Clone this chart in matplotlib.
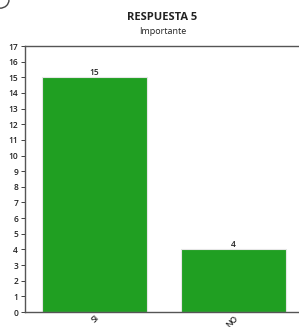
import matplotlib.pyplot as plt
from matplotlib.patches import Arc

categorias = ['SI', 'NO']
valores = [15, 4]

plt.rcParams['font.family'] = ['Open Sans', 'DejaVu Sans']

fig = plt.figure(figsize=(2.99, 3.27), dpi=100)
ax = fig.add_axes([25/299, 1 - 312/327, 278/299, (312 - 46)/327])

pos = list(range(len(categorias)))
barras = ax.bar(pos, valores, width=0.76, color='#209f22', edgecolor='#e6e6e6', linewidth=0.8)
for b, v in zip(barras, valores):
    ax.text(b.get_x() + b.get_width()/2, v + 0.05, str(v), ha='center', va='bottom',
            fontsize=6, fontweight='semibold', color='#222222')

ax.set_xlim(-0.5, 1.5)
ax.set_ylim(0, 17)
ax.set_yticks(range(0, 18))
ax.set_xticks(pos)
ax.set_xticklabels(categorias, rotation=45, ha='right', rotation_mode='anchor',
                   fontweight='semibold')
for t in ax.get_yticklabels():
    t.set_fontweight('semibold')
ax.tick_params(axis='y', labelsize=6, length=3, width=0.6, colors='#222222', pad=2)
ax.tick_params(axis='x', labelsize=6, length=0, colors='#222222', pad=1)
for lado in ['left', 'bottom', 'top']:
    ax.spines[lado].set_color('#555555')
    ax.spines[lado].set_linewidth(1.0)
ax.spines['right'].set_visible(False)

fig.text(0.5 + 13/299, 1 - 18/327, 'RESPUESTA 5', ha='center', va='center',
         fontsize=8, fontweight='bold', color='#222222')
fig.text(0.5 + 13/299, 1 - 32/327, 'Importante', ha='center', va='center',
         fontsize=6.5, color='#222222')

arco = Arc((0, 1), 0.06, 0.05, theta1=270, theta2=360, transform=fig.transFigure,
           color='#444444', linewidth=1.0)
fig.patches.append(arco)

fig.savefig('out.png', dpi=100)
